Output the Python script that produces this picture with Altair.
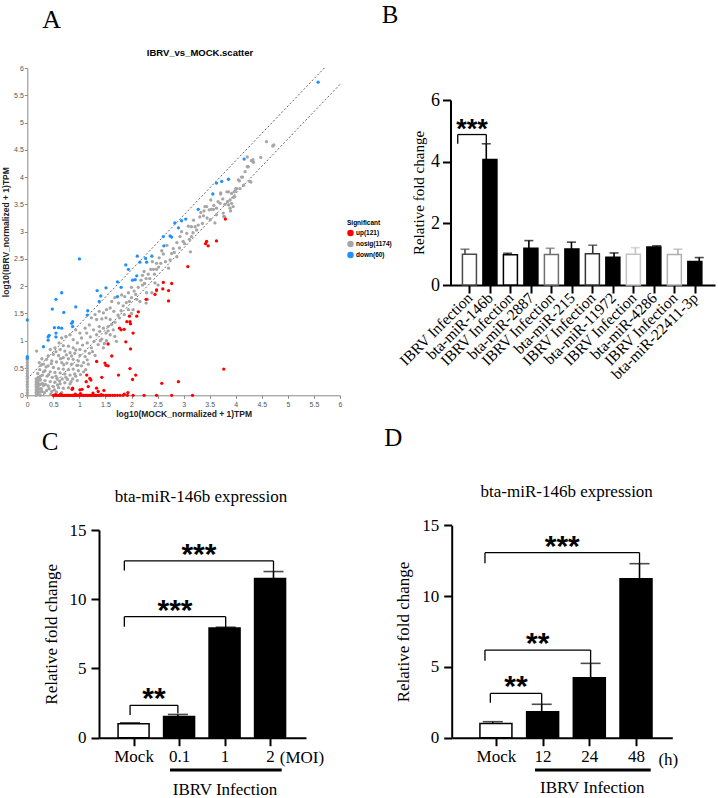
import json

import altair as alt
import pandas as pd

FIG_W, FIG_H = 718, 798
SERIF = "Liberation Serif"
SANS = "Liberation Sans"

# ---------------------------------------------------------------- A: scatter
sig_labels = ["up(121)", "nosig(1174)", "down(60)"]
sig_colors = ["#ff0000", "#a6a6a6", "#1e90ff"]

nosig_points = [
    [4.59, 4.65], [4.71, 4.57], [4.73, 4.59], [4.48, 4.36], [4.22, 4.37], [4.30, 4.30], [4.33, 4.32],
    [4.34, 4.27], [4.22, 4.19], [4.24, 4.19], [4.05, 3.95], [4.11, 4.00], [4.13, 4.00], [4.07, 3.93],
    [4.27, 3.92], [4.29, 3.91], [4.00, 3.79], [4.08, 3.79], [4.02, 3.79], [3.97, 3.73], [3.99, 3.75],
    [3.98, 3.64], [3.95, 3.63], [3.89, 3.58], [3.83, 3.73], [3.86, 3.73], [3.71, 3.71], [3.71, 3.69],
    [3.86, 3.49], [3.89, 3.43], [3.92, 3.52], [3.95, 3.46], [3.84, 3.55], [3.79, 3.50], [3.70, 3.52],
    [3.63, 3.43], [3.57, 3.41], [3.49, 3.40], [3.44, 3.46], [3.39, 3.38], [3.52, 3.58], [3.41, 3.46],
    [3.53, 3.41], [3.63, 3.31], [3.76, 3.34], [3.77, 3.28], [3.79, 3.27], [3.90, 3.38], [3.60, 3.16],
    [3.51, 3.22], [3.38, 3.29], [3.31, 3.27], [3.19, 3.21], [3.09, 3.10], [3.15, 3.09], [3.22, 3.09],
    [3.36, 3.15], [3.25, 3.03], [3.15, 2.91], [3.11, 2.86], [3.06, 2.97], [2.96, 3.00], [2.93, 2.91],
    [2.99, 2.82], [3.13, 2.63], [2.87, 2.80], [2.80, 2.69], [2.77, 2.60], [2.87, 2.54], [2.74, 2.48],
    [2.71, 2.33], [2.58, 2.65], [2.61, 2.59], [2.53, 2.52], [2.48, 2.42], [2.56, 2.42], [2.48, 2.31],
    [2.42, 2.31], [2.44, 2.22], [2.37, 2.31], [2.32, 2.22], [2.24, 2.27], [2.21, 2.20], [2.28, 2.14],
    [2.18, 2.11], [2.21, 2.02], [2.45, 2.06], [2.51, 2.02], [2.48, 1.91], [2.39, 1.88], [2.29, 1.88],
    [2.31, 1.76], [2.28, 1.69], [2.16, 1.72], [2.10, 1.76], [2.05, 1.91], [2.00, 1.98], [1.94, 1.88],
    [2.00, 1.79], [1.96, 1.72], [1.87, 1.81], [1.81, 1.84], [1.68, 1.79], [1.62, 1.72], [1.75, 1.69],
    [1.84, 1.64], [1.94, 1.57], [2.03, 1.57], [2.00, 1.50], [1.86, 1.48], [1.77, 1.42], [1.66, 1.54],
    [1.59, 1.60], [1.52, 1.57], [1.46, 1.51], [1.38, 1.54], [1.30, 1.48], [1.23, 1.42], [1.33, 1.39],
    [1.43, 1.40], [1.51, 1.42], [1.59, 1.39], [1.68, 1.34], [1.65, 1.20], [1.55, 1.26], [1.46, 1.23],
    [1.38, 1.26], [1.39, 1.17], [1.51, 1.14], [1.59, 1.11], [1.68, 1.08], [1.71, 0.99], [1.52, 1.00],
    [1.43, 1.03], [1.33, 1.11], [1.27, 1.20], [1.19, 1.29], [1.11, 1.23], [1.14, 1.14], [1.21, 1.07],
    [1.28, 0.99], [1.36, 0.93], [1.46, 0.87], [1.23, 0.87], [1.15, 0.96], [1.04, 1.05], [1.01, 1.14],
    [0.93, 1.20], [0.96, 0.96], [0.88, 1.02], [0.82, 1.11], [0.74, 1.08], [0.66, 1.05], [0.61, 0.96],
    [0.69, 0.91], [0.79, 0.90], [0.88, 0.87], [1.01, 0.84], [1.11, 0.81], [1.19, 0.77], [1.30, 0.73],
    [1.11, 0.71], [1.01, 0.73], [0.91, 0.77], [0.82, 0.78], [0.72, 0.81], [0.63, 0.84], [0.53, 0.87],
    [0.44, 0.84], [0.50, 0.75], [0.60, 0.73], [0.69, 0.69], [0.79, 0.67], [0.88, 0.66], [0.98, 0.63],
    [1.08, 0.60], [1.17, 0.57], [1.04, 0.54], [0.95, 0.55], [0.85, 0.57], [0.76, 0.59], [0.66, 0.60],
    [0.56, 0.61], [0.47, 0.63], [0.37, 0.66], [0.28, 0.67], [0.18, 0.81], [0.23, 0.60], [0.31, 0.57],
    [0.40, 0.54], [0.50, 0.51], [0.60, 0.49], [0.69, 0.48], [0.79, 0.47], [0.88, 0.48], [0.98, 0.45],
    [1.08, 0.43], [0.91, 0.39], [0.82, 0.37], [0.72, 0.39], [0.63, 0.41], [0.53, 0.42], [0.44, 0.43],
    [0.34, 0.45], [0.24, 0.47], [0.29, 0.37], [0.38, 0.35], [0.48, 0.33], [0.57, 0.31], [0.67, 0.30],
    [0.77, 0.29], [0.87, 0.30], [0.96, 0.27], [0.82, 0.21], [0.72, 0.23], [0.63, 0.21], [0.53, 0.24],
    [0.44, 0.25], [0.34, 0.27], [0.24, 0.30], [0.31, 0.18], [0.40, 0.17], [0.50, 0.16], [0.60, 0.14],
    [0.69, 0.13], [0.79, 0.14], [0.37, 0.09], [0.47, 0.07], [0.56, 0.06], [0.66, 0.05], [0.28, 0.07],
    [0.19, 0.12], [0.18, 0.06], [0.27, 0.12], [0.33, 0.05], [0.35, 0.20], [0.42, 0.12], [0.45, 0.02],
    [0.52, 0.10], [0.55, 0.35], [0.62, 0.26], [0.41, 0.38], [0.29, 0.22], [0.31, 0.43], [0.58, 0.19],
    [0.74, 0.33], [0.84, 0.25], [0.93, 0.35], [1.02, 0.38], [1.12, 0.47], [0.97, 0.55], [0.70, 0.56],
    [0.36, 0.52], [0.26, 0.55], [0.20, 0.40], [0.46, 0.58], [0.64, 0.67], [0.75, 0.74], [0.85, 0.72],
    [0.93, 0.83], [1.06, 0.92], [0.55, 0.80], [0.40, 0.72], [1.15, 0.65], [1.25, 0.80], [1.40, 1.00],
    [1.48, 0.95], [1.55, 1.18], [1.62, 1.30], [1.74, 1.47], [1.80, 1.55], [1.90, 1.70], [2.08, 1.85],
    [2.13, 1.98], [2.25, 2.05], [2.35, 2.14], [2.40, 2.45], [2.52, 2.35], [2.65, 2.45], [2.68, 2.75],
    [2.82, 2.62], [2.92, 2.70], [3.02, 2.78], [3.18, 2.98], [3.28, 3.12], [3.33, 3.35], [3.45, 3.25],
    [3.58, 3.48], [3.66, 3.55], [3.75, 3.60], [3.92, 3.70], [4.15, 3.85], [4.18, 4.10],
    # low-count columns hugging the origin
    [0.00, 0.00], [0.00, 0.05], [0.00, 0.10], [0.00, 0.15], [0.00, 0.20], [0.00, 0.25], [0.00, 0.30],
    [0.00, 0.35], [0.00, 0.40], [0.00, 0.45], [0.00, 0.50], [0.00, 0.55], [0.00, 0.60], [0.00, 0.65],
    [0.17, 0.00], [0.17, 0.05], [0.17, 0.10], [0.17, 0.15], [0.17, 0.20], [0.17, 0.25], [0.17, 0.30],
    [0.21, 0.02], [0.21, 0.07], [0.21, 0.12], [0.21, 0.17], [0.21, 0.22], [0.21, 0.27], [0.21, 0.33],
    [0.25, 0.00], [0.25, 0.06], [0.25, 0.12], [0.25, 0.20], [0.25, 0.28], [0.25, 0.35],
]

up_points = [
    [3.80, 3.23], [3.44, 2.82], [3.47, 2.74], [3.42, 2.78], [3.63, 2.83], [3.08, 2.36], [2.61, 2.07],
    [2.77, 2.05], [2.60, 1.95], [2.71, 1.92], [2.48, 1.93], [2.45, 1.85], [2.71, 1.73], [2.28, 1.76],
    [2.13, 1.53], [2.10, 1.45], [1.96, 1.45], [1.91, 1.35], [1.97, 1.35], [1.98, 1.31], [2.03, 1.14],
    [1.86, 1.21], [1.77, 1.23], [1.80, 1.20], [1.89, 0.98], [1.55, 0.94], [1.98, 0.85], [1.62, 0.72],
    [1.33, 0.62], [1.49, 0.59], [1.51, 0.55], [1.55, 0.54], [1.43, 0.33], [1.75, 0.37], [1.97, 0.49],
    [2.08, 0.37], [2.02, 0.29], [3.77, 0.48], [2.90, 0.25], [2.58, 0.22], [1.14, 0.37], [1.20, 0.31],
    [1.22, 0.28], [1.13, 0.25], [1.17, 0.16], [1.05, 0.11], [1.01, 0.10], [0.87, 0.13], [0.86, 0.11],
    [1.33, 0.13], [1.36, 0.07], [1.47, 0.09], [1.26, 0.04], [1.93, 0.05], [1.86, 0.02],
    [0.54, 0.01], [0.64, 0.02], [0.92, 0.02], [1.02, 0.03], [1.42, 0.01],
    [0.50, 0], [0.53, 0], [0.56, 0], [0.58, 0], [0.61, 0], [0.63, 0], [0.66, 0], [0.68, 0], [0.70, 0],
    [0.72, 0], [0.74, 0], [0.76, 0], [0.79, 0], [0.81, 0], [0.83, 0], [0.86, 0], [0.88, 0], [0.90, 0],
    [0.93, 0], [0.95, 0], [0.98, 0], [1.01, 0], [1.03, 0], [1.06, 0], [1.08, 0], [1.11, 0], [1.13, 0],
    [1.15, 0], [1.18, 0], [1.20, 0], [1.22, 0], [1.24, 0], [1.27, 0], [1.29, 0], [1.31, 0], [1.33, 0],
    [1.36, 0], [1.38, 0], [1.41, 0], [1.46, 0], [1.51, 0], [1.55, 0], [1.59, 0], [1.64, 0], [1.68, 0],
    [1.73, 0], [1.78, 0], [1.84, 0], [1.92, 0], [2.03, 0], [2.24, 0], [2.48, 0], [2.77, 0], [3.17, 0],
]

down_points = [
    [5.58, 5.74], [4.16, 4.33], [3.86, 3.96], [3.73, 3.92], [3.63, 3.89], [3.56, 3.69], [3.28, 3.41],
    [3.04, 3.23], [2.96, 3.20], [2.83, 3.16], [2.90, 3.07], [2.61, 2.91], [2.74, 2.92], [2.77, 2.90],
    [2.62, 2.74], [2.39, 2.55], [2.27, 2.51], [2.29, 2.44], [2.11, 2.55], [2.16, 2.44], [1.94, 2.31],
    [1.89, 2.39], [2.10, 2.19], [2.02, 2.11], [2.07, 2.12], [1.80, 1.98], [1.73, 2.08], [1.73, 1.81],
    [1.41, 1.82], [1.34, 1.92], [1.51, 1.97], [1.38, 1.72], [1.16, 1.55], [1.15, 1.47], [1.00, 2.50],
    [0.66, 1.88], [0.55, 1.76], [0.48, 1.58], [0.70, 1.52], [0.93, 1.62], [0.87, 1.35], [0.85, 1.32],
    [0.87, 1.26], [0.66, 1.23], [0.60, 1.24], [0.52, 1.24], [0.55, 1.14], [0.55, 1.07], [0.42, 1.10],
    [0.40, 1.07], [0.40, 1.01], [0.31, 0.89], [0.00, 1.38], [0.00, 0.71], [0.00, 0.68],
]

# two-fold change guides, log10(2) above and below the identity line
guide_upper = [[0.0, 0.301], [5.699, 6.0]]
guide_lower = [[0.301, 0.0], [6.0, 5.699]]
scatter_ticks = [0, 0.5, 1, 1.5, 2, 2.5, 3, 3.5, 4, 4.5, 5, 5.5, 6]

# ---------------------------------------------------------------- B: miRNA qPCR
b_labels = ["IBRV Infection", "bta-miR-146b", "IBRV Infection", "bta-miR-2887",
            "IBRV Infection", "bta-miR-215", "IBRV Infection", "bta-miR-11972",
            "IBRV Infection", "bta-miR-4286", "IBRV Infection", "bta-miR-22411-3p"]
b_mean = [1.00, 4.07, 0.98, 1.19, 0.99, 1.17, 1.01, 0.90, 1.00, 1.23, 0.99, 0.76]
b_upper = [1.16, 4.58, 1.03, 1.44, 1.19, 1.39, 1.29, 1.04, 1.21, 1.27, 1.16, 0.89]
b_brackets = {"x1": [-0.34], "x2": [1.0], "top": [4.88], "left_end": [4.58],
              "right_end": [4.58], "stars": ["***"]}

# ---------------------------------------------------------------- C: dose (MOI)
c_labels = ["Mock", "0.1", "1", "2"]
c_mean = [1.00, 1.53, 7.93, 11.49]
c_upper = [1.07, 1.68, 7.98, 12.00]
c_brackets = {"x1": [0.0, -0.12, -0.12], "x2": [1.0, 2.0, 3.0], "top": [2.34, 8.74, 12.77],
              "left_end": [1.64, 8.02, 12.07], "right_end": [1.76, 8.0, 12.0],
              "stars": ["**", "***", "***"]}

# ---------------------------------------------------------------- D: time course (h)
d_labels = ["Mock", "12", "24", "48"]
d_mean = [1.00, 1.84, 4.24, 11.23]
d_upper = [1.13, 2.36, 5.25, 12.29]
d_brackets = {"x1": [-0.05, -0.16, -0.16], "x2": [1.0, 2.0, 3.0], "top": [3.13, 6.19, 13.07],
              "left_end": [2.47, 5.44, 12.32], "right_end": [2.36, 5.25, 12.29],
              "stars": ["**", "**", "***"]}

# ---------------------------------------------------------------- layout (pixels)
FRAME_A = {"x": (27.3, 340.0), "y": (395.3, 68.0)}
FRAME_B = {"x": (450.5, 715.0), "y": (285.0, 100.0)}
FRAME_C = {"x": (99.0, 306.0), "y": (737.7, 530.0)}
FRAME_D = {"x": (451.7, 672.3), "y": (737.7, 525.3)}


def lin(domain, rng):
    return alt.Scale(domain=list(domain), range=list(rng), nice=False, zero=False)


def text_mark(text, x, y, size, font=SERIF, weight="normal"):
    return alt.Chart(pd.DataFrame({"t": [text]})).mark_text(
        font=font, fontSize=size, fontWeight=weight, align="center",
        baseline="middle", color="black",
    ).encode(x=alt.value(x), y=alt.value(y), text="t:N")


def underline(x1, x2, y):
    return alt.Chart(pd.DataFrame({"k": [0]})).mark_rule(
        strokeWidth=3, color="black"
    ).encode(x=alt.value(x1), x2=alt.value(x2), y=alt.value(y))


# ---------------------------------------------------------------- scatter panel
def scatter_panel():
    xsc = lin((0, 6), FRAME_A["x"])
    ysc = lin((0, 6), FRAME_A["y"])
    axis_common = dict(
        values=scatter_ticks, format="~g", labelFont=SANS, labelFontSize=7,
        labelColor="#555555", domainColor="#8a8a8a", tickColor="#8a8a8a",
        tickSize=3, labelFlush=False, labelOverlap=False, grid=False,
        titleFont=SANS, titleFontSize=8.5, titleFontWeight="bold", titleColor="#222222",
    )
    rows = ([(p[0], p[1], sig_labels[1]) for p in nosig_points]
            + [(p[0], p[1], sig_labels[0]) for p in up_points]
            + [(p[0], p[1], sig_labels[2]) for p in down_points])
    pts = pd.DataFrame(rows, columns=["mock", "ibrv", "sig"])
    points = alt.Chart(pts).mark_circle(size=11, opacity=1).encode(
        x=alt.X("mock:Q", scale=xsc, axis=alt.Axis(
            orient="bottom", offset=FRAME_A["y"][0] - FIG_H, labelPadding=2,
            title="log10(MOCK_normalized + 1)TPM", titlePadding=2, **axis_common)),
        y=alt.Y("ibrv:Q", scale=ysc, axis=alt.Axis(
            orient="left", offset=-FRAME_A["x"][0], labelPadding=1,
            title="log10(IBRV_normalized + 1)TPM", titlePadding=3, **axis_common)),
        color=alt.Color("sig:N", scale=alt.Scale(domain=sig_labels, range=sig_colors),
                        legend=alt.Legend(
                            title="Significant", orient="none", legendX=347, legendY=220,
                            titleFont=SANS, titleFontSize=6.5, titleFontWeight="bold",
                            labelFont=SANS, labelFontSize=6.5, labelFontWeight="bold",
                            symbolType="circle", symbolSize=42, symbolStrokeWidth=0,
                            rowPadding=4, titlePadding=3, labelOffset=2, padding=0)),
    )
    guides = pd.DataFrame(
        [(g[0], g[1], "upper") for g in guide_upper] + [(g[0], g[1], "lower") for g in guide_lower],
        columns=["mock", "ibrv", "line"])
    lines = alt.Chart(guides).mark_line(
        strokeDash=[2, 2], strokeWidth=0.9, color="#555555"
    ).encode(
        x=alt.X("mock:Q", scale=xsc, axis=None),
        y=alt.Y("ibrv:Q", scale=ysc, axis=None),
        detail="line:N",
    )
    return [
        lines, points,
        text_mark("A", 51.7, 20, 26),
        text_mark("IBRV_vs_MOCK.scatter", 200, 53.3, 9.5, font=SANS, weight="bold"),
    ]


# ---------------------------------------------------------------- bar panels
def bar_panel(labels, mean, upper, fills, outlines, brackets, frame, xdom, ydom,
              yticks, bar_w, cap_w, tick_font, x_label_style, ytitle_size,
              ytitle_pad, ylabel_pad, star_size):
    n = len(labels)
    df = pd.DataFrame({"pos": list(range(n)), "mean": mean, "upper": upper,
                       "fill": fills, "outline": outlines})
    xsc = lin(xdom, frame["x"])
    ysc = lin(ydom, frame["y"])
    frame_axis = dict(domainColor="black", domainWidth=2, tickColor="black",
                      tickWidth=2, tickSize=8, labelFont=SERIF, labelColor="black",
                      labelFlush=False, labelOverlap=False, grid=False)
    xax = alt.Axis(orient="bottom", offset=frame["y"][0] - FIG_H, values=list(range(n)),
                   labelExpr="%s[datum.value]" % json.dumps(labels), title=None,
                   **x_label_style, **frame_axis)
    yax = alt.Axis(orient="left", offset=-frame["x"][0], values=yticks,
                   labelFontSize=tick_font, labelPadding=ylabel_pad,
                   title="Relative fold change", titleFont=SERIF,
                   titleFontSize=ytitle_size, titleFontWeight="normal",
                   titleColor="black", titlePadding=ytitle_pad, **frame_axis)
    bars = alt.Chart(df).mark_bar(orient="vertical", size=bar_w, strokeWidth=1.5).encode(
        x=alt.X("pos:Q", scale=xsc, axis=xax),
        y=alt.Y("mean:Q", scale=ysc, axis=yax),
        fill=alt.Fill("fill:N", scale=None),
        stroke=alt.Stroke("outline:N", scale=None),
    )
    whiskers = alt.Chart(df).mark_rule(strokeWidth=1.6).encode(
        x=alt.X("pos:Q", scale=xsc, axis=None),
        y=alt.Y("mean:Q", scale=ysc, axis=None),
        y2="upper:Q",
        stroke=alt.Stroke("outline:N", scale=None),
    )
    caps = alt.Chart(df).mark_tick(orient="horizontal", size=cap_w, thickness=1.6).encode(
        x=alt.X("pos:Q", scale=xsc, axis=None),
        y=alt.Y("upper:Q", scale=ysc, axis=None),
        color=alt.Color("outline:N", scale=None),
    )
    bdf = pd.DataFrame(brackets)
    bdf["mid"] = (bdf["x1"] + bdf["x2"]) / 2
    base = alt.Chart(bdf)
    top = base.mark_rule(strokeWidth=1.3, color="black").encode(
        x=alt.X("x1:Q", scale=xsc, axis=None), x2="x2:Q",
        y=alt.Y("top:Q", scale=ysc, axis=None))
    left = base.mark_rule(strokeWidth=1.3, color="black").encode(
        x=alt.X("x1:Q", scale=xsc, axis=None),
        y=alt.Y("top:Q", scale=ysc, axis=None), y2="left_end:Q")
    right = base.mark_rule(strokeWidth=1.3, color="black").encode(
        x=alt.X("x2:Q", scale=xsc, axis=None),
        y=alt.Y("top:Q", scale=ysc, axis=None), y2="right_end:Q")
    stars = base.mark_text(font=SANS, fontWeight="bold", fontSize=star_size,
                           baseline="alphabetic", align="center", dy=3).encode(
        x=alt.X("mid:Q", scale=xsc, axis=None),
        y=alt.Y("top:Q", scale=ysc, axis=None),
        text="stars:N")
    return [bars, whiskers, caps, top, left, right, stars]


b_fill = ["white" if lab == "IBRV Infection" else "black" for lab in b_labels]
b_outline = ["#4a4a4a", "black", "black", "black", "#6e6e6e", "black",
             "#333333", "black", "#c4c4c4", "black", "#b0b0b0", "black"]

panel_b = bar_panel(
    b_labels, b_mean, b_upper, b_fill, b_outline, b_brackets, FRAME_B,
    xdom=(-0.68, 11.74), ydom=(0, 6), yticks=[0, 2, 4, 6], bar_w=14, cap_w=9,
    tick_font=18,
    x_label_style=dict(labelAngle=-45, labelAlign="right", labelBaseline="middle",
                       labelFontSize=15.5, labelPadding=2),
    ytitle_size=15, ytitle_pad=4, ylabel_pad=3, star_size=27,
) + [text_mark("B", 390, 15, 25)]

mock_fill = ["white", "black", "black", "black"]
mock_outline = ["black", "black", "black", "black"]

panel_c = bar_panel(
    c_labels, c_mean, c_upper, mock_fill, mock_outline, c_brackets, FRAME_C,
    xdom=(-0.65, 3.68), ydom=(0, 15), yticks=[0, 5, 10, 15], bar_w=31, cap_w=20,
    tick_font=17,
    x_label_style=dict(labelFontSize=17, labelPadding=3, labelBaseline="top"),
    ytitle_size=17, ytitle_pad=9, ylabel_pad=5, star_size=30,
) + [
    text_mark("C", 50, 441.7, 25),
    text_mark("bta-miR-146b expression", 201, 497.3, 17),
    text_mark("(MOI)", 302, 758, 17),
    underline(170, 281.7, 770),
    text_mark("IBRV Infection", 225, 790, 17),
]

panel_d = bar_panel(
    d_labels, d_mean, d_upper, mock_fill, mock_outline, d_brackets, FRAME_D,
    xdom=(-0.84, 3.67), ydom=(0, 15), yticks=[0, 5, 10, 15], bar_w=32, cap_w=20,
    tick_font=17,
    x_label_style=dict(labelFontSize=17, labelPadding=3, labelBaseline="top"),
    ytitle_size=17, ytitle_pad=9, ylabel_pad=5, star_size=30,
) + [
    text_mark("D", 393.3, 438.3, 25),
    text_mark("bta-miR-146b expression", 566.7, 491.7, 17),
    text_mark("(h)", 668.3, 760, 17),
    underline(535, 650.7, 770),
    text_mark("IBRV Infection", 592.3, 788.3, 17),
]

layers = scatter_panel() + panel_b + panel_c + panel_d

chart = alt.layer(*layers).resolve_scale(
    x="independent", y="independent", color="independent",
    fill="independent", stroke="independent",
).properties(
    width=FIG_W, height=FIG_H, padding=0, background="white",
    autosize=alt.AutoSizeParams(type="none"),
).configure_view(strokeWidth=0).configure_axis(grid=False)

chart.save("out.html", embed_options={"renderer": "svg", "actions": False})
